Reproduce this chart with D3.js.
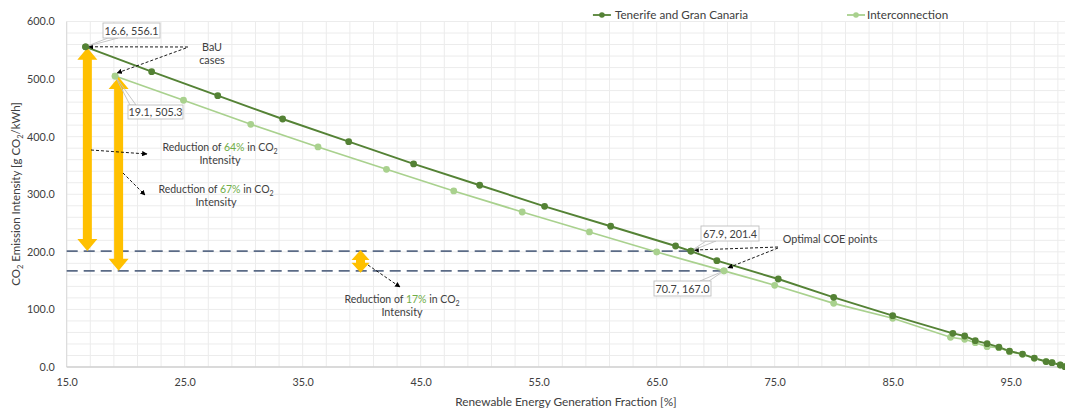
<!DOCTYPE html>
<html><head><meta charset="utf-8">
<script src="https://cdn.jsdelivr.net/npm/d3@7/dist/d3.min.js"></script>
<style>
body{margin:0;background:#fff;}
svg{display:block;font-family:Lato, "Open Sans", sans-serif;}
</style></head>
<body><svg id="c" width="1065" height="412"></svg>
<script>
// ---- data ----
const seriesNames = ["Tenerife and Gran Canaria", "Interconnection"];
const tgcX = [16.6, 22.2, 27.8, 33.3, 38.9, 44.4, 50.0, 55.5, 61.1, 66.6, 67.9, 70.1, 75.3, 80.0, 85.0, 90.1, 91.1, 92.0, 93.0, 94.0, 94.9, 96.0, 97.0, 98.0, 98.5, 99.2, 99.6];
const tgcY = [556.1, 512.9, 471.2, 430.7, 391.3, 352.6, 315.6, 279.1, 244.4, 210.1, 201.4, 184.6, 152.8, 121.0, 89.1, 58.5, 53.8, 45.7, 40.5, 34.5, 27.5, 22.5, 15.5, 9.5, 7.5, 3.5, 0.5];
const icX = [19.1, 24.9, 30.6, 36.3, 42.1, 47.8, 53.6, 59.3, 65.0, 70.7, 75.0, 80.0, 85.0, 89.9, 91.1, 92.0, 93.0, 94.0, 94.9, 96.0, 97.0, 98.0, 98.5, 99.2, 99.6];
const icY = [505.3, 463.2, 421.5, 382.1, 343.3, 305.7, 269.2, 234.5, 199.7, 167.0, 141.9, 110.6, 84.6, 51.6, 48.1, 42.2, 35.3, 33.5, 26.6, 22.0, 15.1, 9.2, 7.5, 3.5, 0.5];
const xTicks = [15, 25, 35, 45, 55, 65, 75, 85, 95];
const yTicks = [0, 100, 200, 300, 400, 500, 600];
const bau = {tgc: [16.6, 556.1], ic: [19.1, 505.3]};
const opt = {tgc: [67.9, 201.4], ic: [70.7, 167.0]};
const reductions = ["64%", "67%", "17%"];

// ---- layout ----
const svg = d3.select("#c");
const x = d3.scaleLinear().domain([15, 100]).range([66.7, 1069.7]);
const y = d3.scaleLinear().domain([0, 600]).range([367, 21.5]);
const darkC = "#548235", lightC = "#A9D18E", textC = "#404040", yellow = "#FFC000", dashC = "#5B6B86";

// grid
const g = svg.append("g");
g.selectAll(".vg").data(d3.range(15, 101, 2)).join("line")
  .attr("x1", d => x(d)).attr("x2", d => x(d)).attr("y1", y(600)).attr("y2", y(0))
  .attr("stroke", "#ececec").attr("stroke-width", 1);
g.selectAll(".hg").data(d3.range(0, 601, 20)).join("line")
  .attr("x1", x(15)).attr("x2", x(100)).attr("y1", d => y(d)).attr("y2", d => y(d))
  .attr("stroke", "#ececec").attr("stroke-width", 1);
g.append("line").attr("x1", x(15)).attr("x2", x(15)).attr("y1", y(600)).attr("y2", y(0)).attr("stroke", "#d9d9d9");
g.append("line").attr("x1", x(15)).attr("x2", x(100)).attr("y1", y(0)).attr("y2", y(0)).attr("stroke", "#d0d0d0").attr("stroke-width", 1.3);

// axes
const xAxis = svg.append("g").attr("transform", `translate(0,${y(0)})`)
  .call(d3.axisBottom(x).tickValues(xTicks).tickFormat(d3.format(".1f")).tickSize(0).tickPadding(11));
const yAxis = svg.append("g").attr("transform", `translate(${x(15)},0)`)
  .call(d3.axisLeft(y).tickValues(yTicks).tickFormat(d3.format(".1f")).tickSize(0).tickPadding(12));
[xAxis, yAxis].forEach(a => { a.select(".domain").remove(); a.selectAll("text").attr("fill", textC).style("font-size", "10.8px").style("font-family", "Lato"); });

svg.append("text").attr("x", 566).attr("y", 406).attr("text-anchor", "middle").attr("fill", textC)
  .style("font-size", "11.8px").text("Renewable Energy Generation Fraction [%]");
const yl = svg.append("text").attr("transform", "translate(20,194) rotate(-90)").attr("text-anchor", "middle")
  .attr("fill", textC).style("font-size", "11.5px");
yl.append("tspan").text("CO");
yl.append("tspan").attr("dy", 3).style("font-size", "7.5px").text("2");
yl.append("tspan").attr("dy", -3).text(" Emission Intensity [g CO");
yl.append("tspan").attr("dy", 3).style("font-size", "7.5px").text("2");
yl.append("tspan").attr("dy", -3).text("/kWh]");

// dashed reference lines
const dl = svg.append("g");
[opt.tgc, opt.ic].forEach(p => {
  dl.append("line").attr("x1", x(15)).attr("x2", x(p[0])).attr("y1", y(p[1])).attr("y2", y(p[1]))
    .attr("stroke", dashC).attr("stroke-width", 1.8).attr("stroke-dasharray", "11,6");
});

// series
const line = d3.line().x(d => x(d[0])).y(d => y(d[1]));
const tgc = tgcX.map((v, i) => [v, tgcY[i]]);
const ic = icX.map((v, i) => [v, icY[i]]);
[[ic, lightC, 1.7], [tgc, darkC, 1.9]].forEach(([data, col, w]) => {
  svg.append("path").datum(data).attr("d", line).attr("fill", "none").attr("stroke", col).attr("stroke-width", w);
});
[[ic, lightC], [tgc, darkC]].forEach(([data, col]) => {
  svg.append("g").selectAll("circle").data(data).join("circle")
    .attr("cx", d => x(d[0])).attr("cy", d => y(d[1])).attr("r", 3.4).attr("fill", col);
});

// yellow double arrows
function dblArrow(cx, yt, yb, sw, hw, hh) {
  const p = [[cx, yt], [cx + hw / 2, yt + hh], [cx + sw / 2, yt + hh], [cx + sw / 2, yb - hh], [cx + hw / 2, yb - hh], [cx, yb],
    [cx - hw / 2, yb - hh], [cx - sw / 2, yb - hh], [cx - sw / 2, yt + hh], [cx - hw / 2, yt + hh]];
  svg.append("polygon").attr("points", p.map(q => q.join(",")).join(" ")).attr("fill", yellow);
}
dblArrow(x(16.75), y(bau.tgc[1]) + 1, y(opt.tgc[1]), 9, 20, 12);
dblArrow(x(19.4), y(bau.ic[1]) + 1, y(opt.ic[1]), 9, 20, 12);
dblArrow(x(39.9), y(opt.tgc[1]) - 1, y(opt.ic[1]) + 2, 9, 18, 10);

// dashed black arrows
const defs = svg.append("defs");
defs.append("marker").attr("id", "ah").attr("viewBox", "0 0 10 10").attr("refX", 9).attr("refY", 5)
  .attr("markerWidth", 6).attr("markerHeight", 6).attr("orient", "auto-start-reverse")
  .append("path").attr("d", "M0,0 L10,5 L0,10 z").attr("fill", "#000");
function dArrow(x1, y1, x2, y2) {
  svg.append("line").attr("x1", x1).attr("y1", y1).attr("x2", x2).attr("y2", y2)
    .attr("stroke", "#000").attr("stroke-width", 0.9).attr("stroke-dasharray", "3,2").attr("marker-end", "url(#ah)");
}
dArrow(188, 47, x(bau.tgc[0]) + 3, y(bau.tgc[1]));
dArrow(186, 48, x(bau.ic[0]) + 2, y(bau.ic[1]) - 3);
dArrow(778, 247, x(opt.tgc[0]) + 3, y(opt.tgc[1]) - 1);
dArrow(778, 248, x(opt.ic[0]) + 4, y(opt.ic[1]) - 3);
dArrow(91, 150, 147, 154);
dArrow(123, 173, 145, 195);
dArrow(368, 265, 400, 287);

// callout labels
function callout(p, bx, by, bw, bh, lx1, lx2, ly) {
  const px = x(p[0]), py = y(p[1]);
  svg.append("polygon").attr("points", `${px},${py} ${lx1},${ly} ${lx2},${ly}`).attr("fill", "none").attr("stroke", "#bfbfbf").attr("stroke-width", 0.9);
  svg.append("rect").attr("x", bx).attr("y", by).attr("width", bw).attr("height", bh).attr("fill", "#fff").attr("stroke", "#bfbfbf").attr("stroke-width", 0.9);
  svg.append("text").attr("x", bx + bw / 2).attr("y", by + bh / 2 + 4).attr("text-anchor", "middle").attr("fill", textC)
    .style("font-size", "10.8px").text(d3.format(".1f")(p[0]) + ", " + d3.format(".1f")(p[1]));
}
callout(bau.tgc, 103, 23, 57, 15, 108, 118, 38);
callout(bau.ic, 128, 105, 55, 14, 130, 136, 105);
callout(opt.tgc, 701, 226, 58, 15, 706, 716, 241);
callout(opt.ic, 654, 281, 57, 15, 700, 709, 281);
// redraw points over callout lines
[[bau.tgc, darkC], [opt.tgc, darkC], [bau.ic, lightC], [opt.ic, lightC]].forEach(([p, c]) =>
  svg.append("circle").attr("cx", x(p[0])).attr("cy", y(p[1])).attr("r", 3.4).attr("fill", c));

// plain texts
function txt(cx, cy, s) {
  svg.append("text").attr("x", cx).attr("y", cy).attr("text-anchor", "middle").attr("fill", textC).style("font-size", "10.8px").text(s);
}
txt(212, 51, "BaU");
txt(212, 64, "cases");
txt(830, 243, "Optimal  COE points");
function redText(cx, cy, pct) {
  const t = svg.append("text").attr("x", cx).attr("y", cy).attr("text-anchor", "middle").attr("fill", textC).style("font-size", "10.5px");
  t.append("tspan").text("Reduction of  ");
  t.append("tspan").attr("fill", "#70AD47").text(pct);
  t.append("tspan").text(" in CO");
  t.append("tspan").attr("dy", 3).style("font-size", "7px").text("2");
  txt(cx, cy + 13, "Intensity");
}
redText(220, 151, reductions[0]);
redText(216, 193, reductions[1]);
redText(402, 303, reductions[2]);

// legend
const lg = svg.append("g").style("font-size", "11.7px");
const t1 = lg.append("text").attr("x", 748).attr("y", 19).attr("text-anchor", "end").attr("fill", textC).text(seriesNames[0]);
const w1 = t1.node().getComputedTextLength();
lg.append("line").attr("x1", 748 - w1 - 22).attr("x2", 748 - w1 - 4).attr("y1", 15).attr("y2", 15).attr("stroke", darkC).attr("stroke-width", 1.8);
lg.append("circle").attr("cx", 748 - w1 - 13).attr("cy", 15).attr("r", 2.8).attr("fill", darkC);
lg.append("text").attr("x", 867).attr("y", 19).attr("fill", textC).text(seriesNames[1]);
lg.append("line").attr("x1", 847).attr("x2", 865).attr("y1", 15).attr("y2", 15).attr("stroke", lightC).attr("stroke-width", 1.8);
lg.append("circle").attr("cx", 856).attr("cy", 15).attr("r", 2.8).attr("fill", lightC);
</script></body></html>
